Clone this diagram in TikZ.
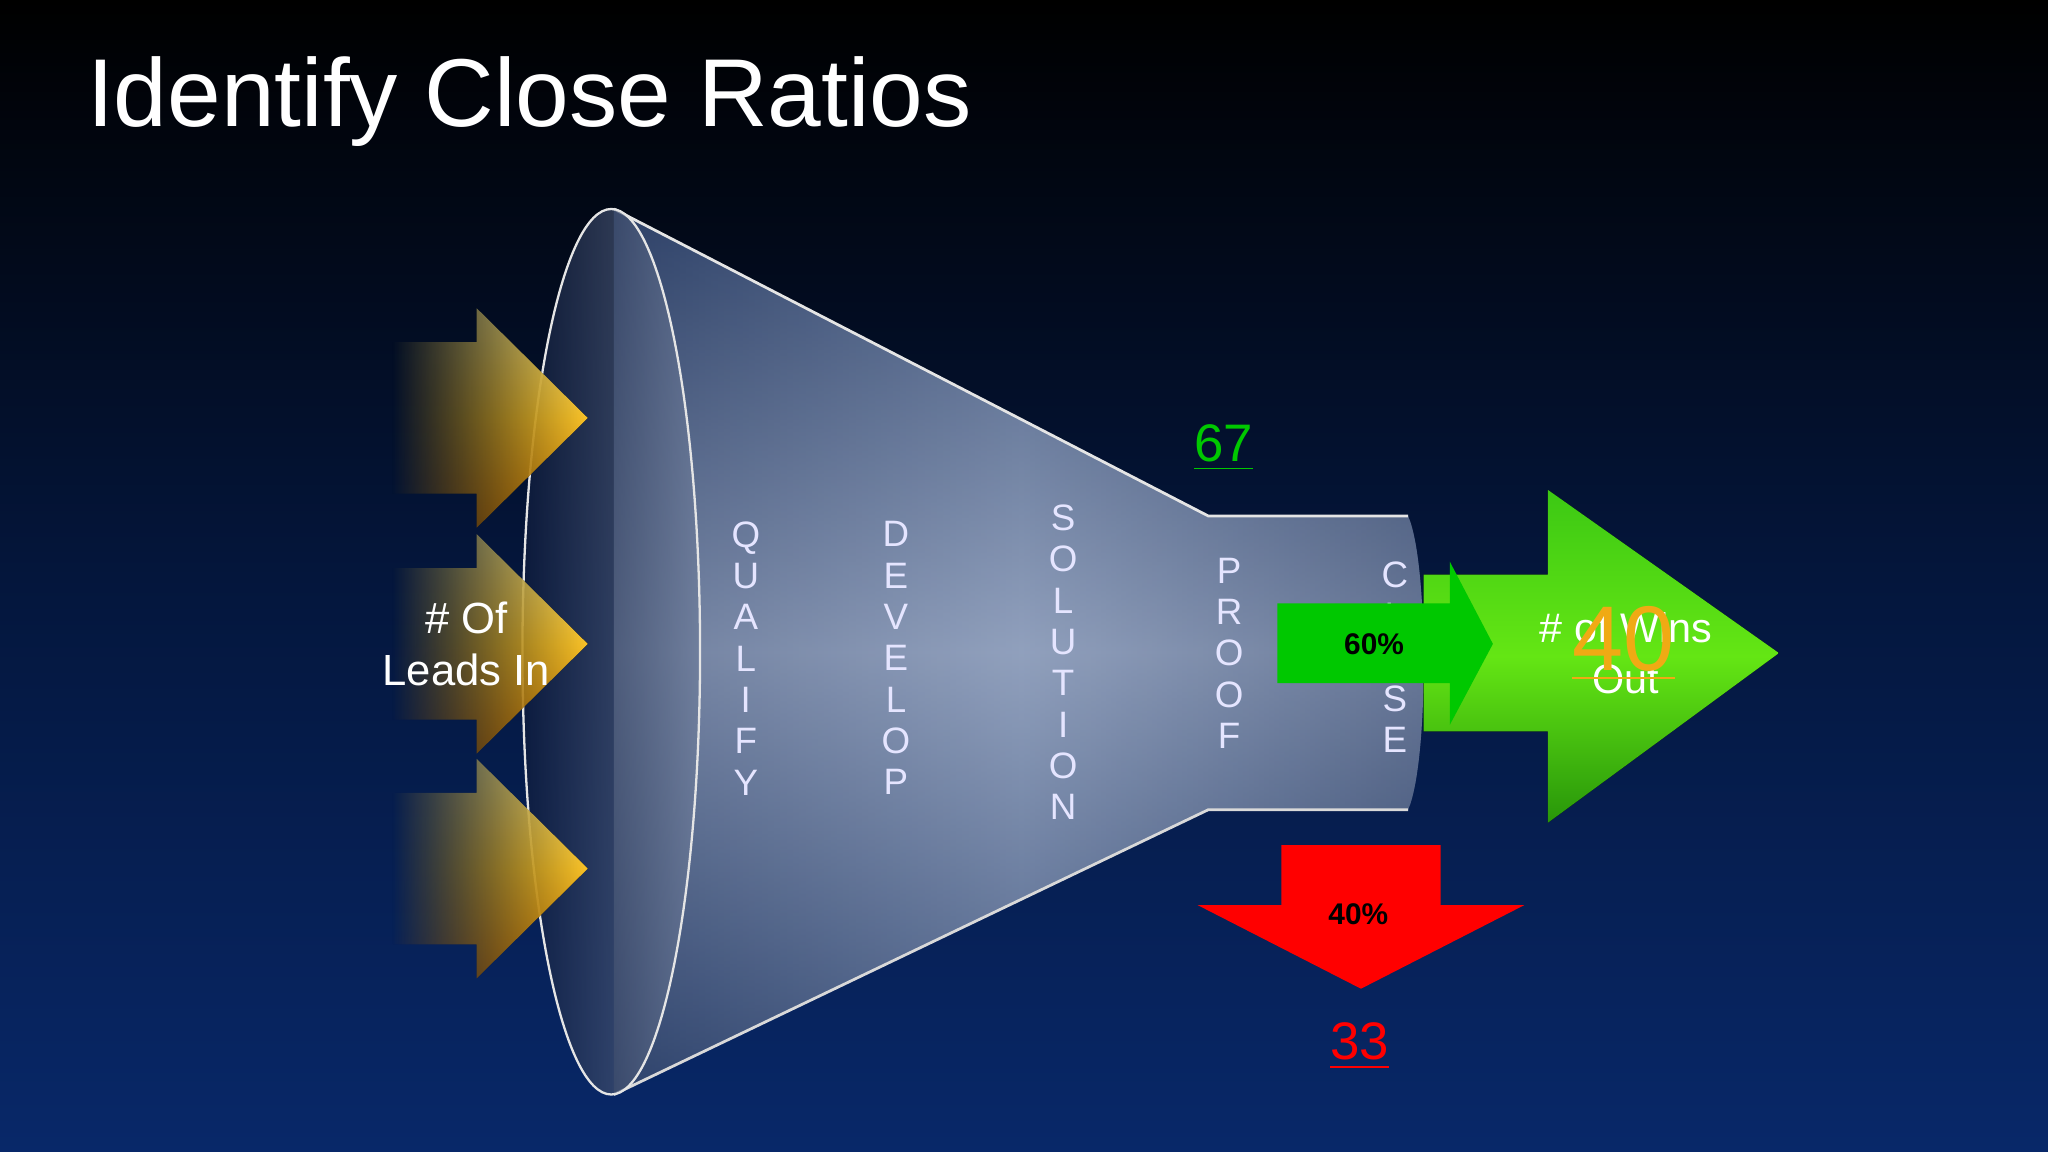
\documentclass[tikz,border=0pt]{standalone}
\usepackage{fontspec}
\setmainfont{Liberation Sans}
\usetikzlibrary{fadings}
\definecolor{bgtop}{RGB}{0,0,0}
\definecolor{bgmid}{RGB}{4,22,60}
\definecolor{bgbot}{RGB}{8,40,105}
\definecolor{fa}{RGB}{55,75,115}
\definecolor{fb}{RGB}{40,60,100}
\definecolor{fc}{RGB}{120,140,175}
\definecolor{fd}{RGB}{40,60,100}
\definecolor{fe}{RGB}{190,200,220}
\definecolor{ma}{RGB}{15,28,60}
\definecolor{mb}{RGB}{110,125,155}
\definecolor{ga}{RGB}{60,200,20}
\definecolor{gb}{RGB}{40,150,10}
\definecolor{gc}{RGB}{100,230,20}
\definecolor{gin}{RGB}{0,200,0}
\definecolor{orng}{RGB}{240,170,20}
\definecolor{ya}{RGB}{255,235,130}
\definecolor{yb}{RGB}{250,195,40}
\definecolor{yc}{RGB}{215,130,0}
\tikzfading[name=fadeleft, left color=transparent!100, right color=transparent!0]
\tikzset{letters/.style={text=white!90!blue, font=\fontsize{8}{9}\selectfont, align=center, inner sep=0pt},
  yarrow/.style={top color=ya, bottom color=yc, middle color=yb, path fading=fadeleft}}
\begin{document}
\begin{tikzpicture}[x=0.01cm,y=-0.01cm]
\fill[top color=bgtop, bottom color=bgbot, middle color=bgmid] (0,0) rectangle (1568,882);
\useasboundingbox (0,0) rectangle (1568,882);
\node[anchor=base west, text=white, font=\fontsize{21}{26}\selectfont, inner sep=0pt] (title) at (66,97) {Identify Close Ratios};
\shade[left color=fa, right color=fb, middle color=fc, opacity=0.9]
  (470,160) -- (925,395) -- (1078,395) .. controls (1094,430) and (1094,585) .. (1078,620) -- (925,620) -- (470,838) -- cycle;
\shade[top color=fd, bottom color=fd, middle color=fe, opacity=0.45]
  (470,160) -- (925,395) -- (1078,395) .. controls (1094,430) and (1094,585) .. (1078,620) -- (925,620) -- (470,838) -- cycle;
\draw[white!80!gray, line width=0.6pt] (470,160) -- (925,395) -- (1078,395);
\draw[white!70!gray, line width=0.6pt] (470,838) -- (925,620) -- (1078,620);
\shade[left color=ma, right color=mb, opacity=0.7] (468,499) ellipse [x radius=68, y radius=339];
\draw[white!80!gray, line width=0.5pt] (468,499) ellipse [x radius=68, y radius=339];
\foreach \c in {320,493,665}{
  \fill[yarrow] (300,\c-58) -- (365,\c-58) -- (365,\c-84) -- (450,\c) -- (365,\c+84) -- (365,\c+58) -- (300,\c+58) -- cycle;
}
\node[text=white, font=\fontsize{9.5}{11.3}\selectfont, align=center] (leads) at (357,493) {\# Of\\Leads In};
\node[letters] (q) at (571,504) {Q\\U\\A\\L\\I\\F\\Y};
\node[letters] (d) at (686,504) {D\\E\\V\\E\\L\\O\\P};
\node[letters] (s) at (814,507) {S\\O\\L\\U\\T\\I\\O\\N};
\node[letters] (p) at (941,500) {P\\R\\O\\O\\F};
\node[letters] (cl) at (1068,503) {C\\L\\O\\S\\E};
\fill[top color=ga, bottom color=gb, middle color=gc]
  (1090,440) -- (1185,440) -- (1185,375) -- (1362,500) -- (1185,630) -- (1185,560) -- (1090,560) -- cycle;
\fill[gin] (978,462) -- (1110,462) -- (1110,430) -- (1143,493) -- (1110,555) -- (1110,523) -- (978,523) -- cycle;
\node[font=\bfseries\fontsize{6.5}{8}\selectfont] (sixty) at (1052,493) {60\%};
\node[text=white, font=\fontsize{9}{11}\selectfont, align=center] (wins) at (1245,500) {\# of Wins\\Out};
\node[text=orng, font=\fontsize{20}{24}\selectfont] (forty) at (1243,493) {\underline{40}};
\node[text=gin, font=\fontsize{11.5}{14}\selectfont] (sixtyseven) at (937,343) {\underline{67}};
\fill[red] (981,647) -- (1103,647) -- (1103,693) -- (1167,693) -- (1042,757) -- (917,693) -- (981,693) -- cycle;
\node[font=\bfseries\fontsize{6.5}{8}\selectfont] (fortyp) at (1040,700) {40\%};
\node[text=red, font=\fontsize{11.5}{14}\selectfont] (thirtythree) at (1041,801) {\underline{33}};
\end{tikzpicture}
\end{document}
